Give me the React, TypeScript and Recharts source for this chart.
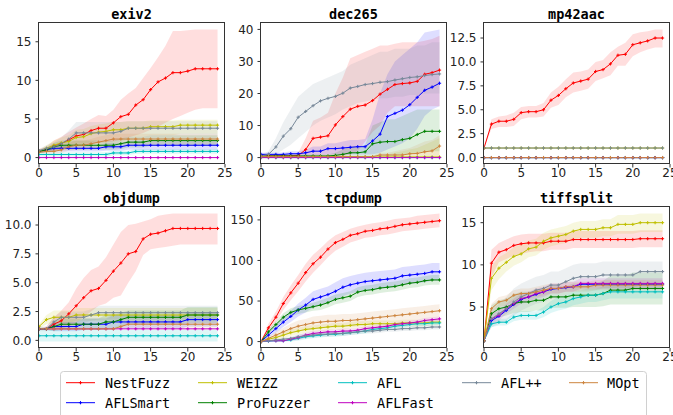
import { Area, ComposedChart, Line, XAxis, YAxis } from 'recharts';

// hours on the x axis
const hours = [0, 1, 2, 3, 4, 5, 6, 7, 8, 9, 10, 11, 12, 13, 14, 15, 16, 17, 18, 19, 20, 21, 22, 23, 24];
const xTicks = [0, 5, 10, 15, 20, 25];

const SERIES = ['NestFuzz', 'AFLSmart', 'WEIZZ', 'ProFuzzer', 'AFL', 'AFLFast', 'AFL++', 'MOpt'];
const COLORS: Record<string, string> = {
	NestFuzz: '#ff0000',
	AFLSmart: '#0000ff',
	WEIZZ: '#bfbf00',
	ProFuzzer: '#008000',
	AFL: '#00bfbf',
	AFLFast: '#bf00bf',
	'AFL++': '#778899',
	MOpt: '#cd853f'
};

type Table = Record<string, number[]>;

// ---------- exiv2 ----------
const exiv2Mean: Table = {
	NestFuzz: [0.8, 1.0, 1.5, 1.8, 2.3, 2.8, 3.0, 3.5, 3.8, 3.8, 4.5, 5.3, 5.6, 6.8, 7.5, 8.8, 9.8, 10.3, 11.0, 11.0, 11.2, 11.5, 11.5, 11.5, 11.5],
	AFLSmart: [0.8, 1.0, 1.2, 1.2, 1.2, 1.2, 1.2, 1.2, 1.2, 1.4, 1.4, 1.4, 1.6, 1.6, 1.6, 1.6, 1.6, 1.6, 1.6, 1.6, 1.6, 1.6, 1.6, 1.6, 1.6],
	WEIZZ: [0.8, 1.2, 1.6, 1.9, 2.1, 2.6, 2.7, 3.1, 3.3, 3.4, 3.6, 3.6, 3.8, 3.8, 3.8, 4.0, 4.0, 4.0, 4.0, 4.2, 4.2, 4.2, 4.2, 4.2, 4.2],
	ProFuzzer: [0.8, 1.0, 1.4, 1.6, 1.6, 1.6, 1.6, 1.6, 1.6, 1.6, 1.6, 1.8, 2.0, 2.0, 2.0, 2.2, 2.2, 2.2, 2.2, 2.2, 2.2, 2.2, 2.2, 2.2, 2.2],
	AFL: [0.4, 0.4, 0.4, 0.4, 0.4, 0.4, 0.4, 0.4, 0.4, 0.4, 0.6, 0.6, 0.6, 0.8, 0.8, 0.8, 0.8, 0.8, 0.8, 0.8, 0.8, 0.8, 0.8, 0.8, 0.8],
	AFLFast: [0, 0, 0, 0, 0, 0, 0, 0, 0, 0, 0, 0, 0, 0, 0, 0, 0, 0, 0, 0, 0, 0, 0, 0, 0],
	'AFL++': [0.9, 1.2, 1.4, 1.8, 2.4, 3.2, 3.2, 3.2, 3.2, 3.2, 3.2, 3.4, 3.8, 3.8, 3.8, 3.8, 3.8, 3.8, 3.8, 3.8, 3.8, 3.8, 3.8, 3.8, 3.8],
	MOpt: [0.7, 0.8, 0.8, 1.0, 1.4, 1.6, 1.6, 1.8, 2.0, 2.2, 2.4, 2.4, 2.4, 2.4, 2.4, 2.4, 2.4, 2.4, 2.4, 2.4, 2.4, 2.4, 2.4, 2.4, 2.4]
};
const exiv2Lo: Table = {
	NestFuzz: [0.6, 0.7, 0.9, 1.1, 1.3, 1.5, 1.6, 1.8, 1.9, 2.0, 2.1, 2.3, 2.6, 2.9, 3.2, 3.6, 4.0, 4.5, 5.0, 5.4, 5.8, 6.2, 6.4, 6.4, 6.4],
	AFLSmart: [0.6, 0.7, 0.8, 0.8, 0.8, 0.8, 0.8, 0.8, 0.8, 0.9, 0.9, 0.9, 1.0, 1.0, 1.0, 1.0, 1.0, 1.0, 1.0, 1.0, 1.0, 1.0, 1.0, 1.0, 1.0],
	WEIZZ: [0.6, 0.8, 1.0, 1.2, 1.3, 1.6, 1.7, 2.0, 2.2, 2.3, 2.5, 2.5, 2.7, 2.7, 2.7, 2.9, 2.9, 2.9, 2.9, 3.1, 3.1, 3.1, 3.1, 3.1, 3.1],
	ProFuzzer: [0.6, 0.7, 0.9, 1.0, 1.0, 1.0, 1.0, 1.0, 1.0, 1.0, 1.0, 1.1, 1.3, 1.3, 1.3, 1.5, 1.5, 1.5, 1.5, 1.5, 1.5, 1.5, 1.5, 1.5, 1.5],
	AFL: [0.1, 0.1, 0.1, 0.1, 0.1, 0.1, 0.1, 0.1, 0.1, 0.1, 0.3, 0.3, 0.3, 0.5, 0.5, 0.5, 0.5, 0.5, 0.5, 0.5, 0.5, 0.5, 0.5, 0.5, 0.5],
	'AFL++': [0.7, 0.8, 0.8, 1.0, 1.3, 1.8, 1.8, 1.8, 1.8, 1.8, 1.8, 2.0, 2.4, 2.4, 2.4, 2.4, 2.4, 2.4, 2.4, 2.4, 2.4, 2.4, 2.4, 2.4, 2.4],
	MOpt: [0.5, 0.5, 0.5, 0.6, 0.9, 1.0, 1.0, 1.2, 1.3, 1.5, 1.7, 1.7, 1.7, 1.7, 1.7, 1.7, 1.7, 1.7, 1.7, 1.7, 1.7, 1.7, 1.7, 1.7, 1.7]
};
const exiv2Hi: Table = {
	NestFuzz: [1.1, 1.4, 2.2, 2.7, 3.3, 3.9, 4.4, 5.0, 5.5, 5.4, 6.2, 7.5, 8.3, 9.0, 10.3, 11.6, 13.0, 14.5, 16.4, 16.4, 16.5, 16.6, 16.6, 16.6, 16.6],
	AFLSmart: [1.0, 1.3, 1.6, 1.6, 1.6, 1.6, 1.6, 1.6, 1.6, 1.9, 1.9, 1.9, 2.2, 2.2, 2.2, 2.2, 2.2, 2.2, 2.2, 2.2, 2.2, 2.2, 2.2, 2.2, 2.2],
	WEIZZ: [1.0, 1.6, 2.2, 2.6, 2.9, 3.6, 3.7, 4.1, 4.3, 4.4, 4.6, 4.6, 4.7, 4.7, 4.7, 4.8, 4.8, 4.8, 4.8, 4.9, 4.9, 4.9, 4.9, 4.9, 4.9],
	ProFuzzer: [1.0, 1.3, 1.9, 2.2, 2.2, 2.2, 2.2, 2.2, 2.2, 2.2, 2.2, 2.5, 2.7, 2.7, 2.7, 2.9, 2.9, 2.9, 2.9, 2.9, 2.9, 2.9, 2.9, 2.9, 2.9],
	AFL: [0.7, 0.7, 0.7, 0.7, 0.7, 0.7, 0.7, 0.7, 0.7, 0.7, 0.9, 0.9, 0.9, 1.1, 1.1, 1.1, 1.1, 1.1, 1.1, 1.1, 1.1, 1.1, 1.1, 1.1, 1.1],
	'AFL++': [1.1, 1.6, 2.0, 2.6, 3.5, 4.6, 4.6, 4.6, 4.6, 4.6, 4.6, 4.6, 4.7, 4.7, 4.7, 4.7, 4.7, 4.7, 4.7, 4.7, 4.7, 4.7, 4.7, 4.7, 4.7],
	MOpt: [0.9, 1.1, 1.1, 1.4, 1.9, 2.2, 2.2, 2.4, 2.7, 2.9, 3.1, 3.1, 3.1, 3.1, 3.1, 3.1, 3.1, 3.1, 3.1, 3.1, 3.1, 3.1, 3.1, 3.1, 3.1]
};

// ---------- dec265 ----------
const decMean: Table = {
	NestFuzz: [0.5, 0.5, 0.5, 0.5, 0.5, 0.6, 2.5, 6.0, 6.4, 6.8, 10.2, 12.8, 15.1, 16.0, 16.4, 17.8, 19.8, 21.3, 22.8, 23.1, 23.3, 23.8, 26.0, 26.5, 27.3],
	AFLSmart: [1.0, 1.0, 1.0, 1.0, 1.2, 1.2, 1.5, 2.0, 2.0, 2.8, 2.8, 3.0, 3.2, 3.4, 3.4, 5.2, 7.3, 12.8, 13.8, 14.8, 16.5, 18.8, 21.0, 22.0, 23.2],
	WEIZZ: [0.2, 0.2, 0.2, 0.2, 0.2, 0.2, 0.2, 0.2, 0.2, 0.2, 0.2, 0.2, 0.2, 0.2, 0.2, 0.2, 0.2, 0.2, 0.2, 0.2, 0.2, 0.2, 0.2, 0.2, 0.2],
	ProFuzzer: [0.5, 0.5, 0.5, 0.5, 0.5, 0.5, 0.5, 0.5, 0.5, 0.5, 0.7, 1.0, 1.5, 1.5, 1.8, 4.3, 4.8, 5.0, 5.0, 5.6, 6.0, 7.2, 8.2, 8.2, 8.2],
	AFL: [0, 0, 0, 0, 0, 0, 0, 0, 0, 0, 0, 0, 0, 0, 0, 0, 0, 0, 0, 0, 0, 0, 0, 0, 0],
	AFLFast: [0, 0, 0, 0, 0, 0, 0, 0, 0, 0, 0, 0, 0, 0, 0, 0, 0, 0, 0, 0, 0, 0, 0, 0, 0],
	'AFL++': [0.5, 1.0, 3.3, 6.7, 9.0, 12.6, 14.4, 16.2, 17.7, 18.5, 19.1, 20.1, 21.7, 22.2, 22.8, 23.1, 23.5, 23.7, 24.2, 24.6, 25.0, 25.2, 25.6, 25.9, 26.1],
	MOpt: [0.3, 0.3, 0.3, 0.3, 0.3, 0.3, 0.3, 0.3, 0.3, 0.3, 0.3, 0.3, 0.3, 0.3, 0.3, 0.3, 0.8, 0.8, 0.8, 0.8, 1.2, 1.3, 1.8, 2.1, 3.6]
};
const decLo: Table = {
	NestFuzz: [0, 0, 0, 0, 0, 0, 0.2, 0.5, 0.5, 0.5, 0.5, 0.5, 1.0, 2.0, 5.0, 8.0, 10.0, 14.0, 16.0, 16.0, 16.0, 16.0, 16.0, 16.0, 16.0],
	AFLSmart: [0.5, 0.5, 0.5, 0.5, 0.5, 0.5, 0.5, 0.8, 0.8, 1.0, 1.0, 1.0, 1.0, 1.0, 1.0, 1.0, 1.5, 2.5, 3.5, 4.5, 6.0, 9.0, 13.0, 15.0, 16.0],
	WEIZZ: [0, 0, 0, 0, 0, 0, 0, 0, 0, 0, 0, 0, 0, 0, 0, 0, 0, 0, 0, 0, 0, 0, 0, 0, 0],
	ProFuzzer: [0, 0, 0, 0, 0, 0, 0, 0, 0, 0, 0, 0, 0, 0, 0, 0.5, 0.5, 0.5, 0.5, 1.0, 1.0, 1.5, 2.0, 2.0, 2.0],
	'AFL++': [0, 0.3, 1.0, 2.5, 4.0, 6.0, 8.0, 10.0, 11.5, 12.5, 13.5, 15.0, 16.0, 17.0, 17.5, 18.0, 18.5, 18.5, 19.0, 19.0, 19.5, 19.5, 20.0, 20.0, 20.0],
	MOpt: [0, 0, 0, 0, 0, 0, 0, 0, 0, 0, 0, 0, 0, 0, 0, 0, 0, 0, 0, 0, 0, 0, 0, 0, 0]
};
const decHi: Table = {
	NestFuzz: [1, 1, 1, 1, 1, 1.5, 6, 11.5, 12.5, 14, 20, 25, 31, 32, 33, 34, 35, 35, 35.5, 36, 36, 36, 36.5, 37, 38],
	AFLSmart: [1.5, 1.5, 1.5, 1.6, 2.0, 2.0, 2.5, 3.5, 3.5, 4.5, 4.5, 5.0, 5.5, 5.5, 5.8, 12, 20, 26, 30, 32, 34, 36, 39, 39.5, 40],
	WEIZZ: [0.5, 0.5, 0.5, 0.5, 0.5, 0.5, 0.5, 0.5, 0.5, 0.5, 0.5, 0.5, 0.5, 0.5, 0.5, 0.5, 0.5, 1.0, 1.5, 2.0, 2.5, 3.0, 4.0, 5.0, 6.0],
	ProFuzzer: [1, 1, 1, 1, 1, 1, 1, 1, 1, 1, 1.5, 2.5, 3.5, 3.5, 4, 10, 11, 12, 12, 13, 14, 15, 15, 15, 15],
	'AFL++': [1, 2, 6, 11, 15, 19, 21, 23, 24, 25, 26, 27, 29, 30, 31, 32, 33, 33, 34, 34, 34, 35, 35, 36, 36],
	MOpt: [0.6, 0.6, 0.6, 0.6, 0.6, 0.6, 0.6, 0.6, 0.6, 0.6, 0.6, 0.6, 0.6, 0.6, 0.6, 0.6, 1.5, 1.5, 2.0, 2.5, 3.0, 4.0, 5.0, 5.5, 7.0]
};

// ---------- mp42aac ----------
const mpMean: Table = {
	NestFuzz: [1.0, 3.5, 3.8, 3.8, 4.0, 4.7, 4.8, 4.8, 5.0, 6.0, 6.5, 7.2, 7.8, 8.0, 8.2, 9.0, 9.2, 9.8, 10.7, 10.8, 11.8, 12.0, 12.2, 12.5, 12.5],
	AFLSmart: [0, 0, 0, 0, 0, 0, 0, 0, 0, 0, 0, 0, 0, 0, 0, 0, 0, 0, 0, 0, 0, 0, 0, 0, 0],
	WEIZZ: [1, 1, 1, 1, 1, 1, 1, 1, 1, 1, 1, 1, 1, 1, 1, 1, 1, 1, 1, 1, 1, 1, 1, 1, 1],
	ProFuzzer: [0, 0, 0, 0, 0, 0, 0, 0, 0, 0, 0, 0, 0, 0, 0, 0, 0, 0, 0, 0, 0, 0, 0, 0, 0],
	AFL: [0, 0, 0, 0, 0, 0, 0, 0, 0, 0, 0, 0, 0, 0, 0, 0, 0, 0, 0, 0, 0, 0, 0, 0, 0],
	AFLFast: [0, 0, 0, 0, 0, 0, 0, 0, 0, 0, 0, 0, 0, 0, 0, 0, 0, 0, 0, 0, 0, 0, 0, 0, 0],
	'AFL++': [1, 1, 1, 1, 1, 1, 1, 1, 1, 1, 1, 1, 1, 1, 1, 1, 1, 1, 1, 1, 1, 1, 1, 1, 1],
	MOpt: [0, 0, 0, 0, 0, 0, 0, 0, 0, 0, 0, 0, 0, 0, 0, 0, 0, 0, 0, 0, 0, 0, 0, 0, 0]
};
const mpLo: Table = {
	NestFuzz: [1.0, 3.0, 3.2, 3.2, 3.3, 4.0, 4.2, 4.2, 4.3, 5.2, 5.5, 6.3, 6.8, 7.0, 7.2, 8.0, 8.3, 8.6, 9.6, 9.6, 10.6, 11.0, 11.3, 11.5, 11.5]
};
const mpHi: Table = {
	NestFuzz: [1.0, 4.0, 4.3, 4.4, 4.7, 5.3, 5.4, 5.4, 5.7, 6.8, 7.4, 8.2, 8.9, 9.0, 9.2, 10.0, 10.2, 11.0, 11.6, 12.0, 12.9, 13.1, 13.2, 13.4, 13.4]
};

// ---------- objdump ----------
const objMean: Table = {
	NestFuzz: [1.0, 1.0, 1.4, 1.7, 2.3, 3.0, 3.7, 4.3, 4.5, 5.2, 6.0, 6.7, 7.5, 7.7, 8.8, 9.2, 9.3, 9.5, 9.7, 9.7, 9.7, 9.7, 9.7, 9.7, 9.7],
	AFLSmart: [1.0, 1.0, 1.2, 1.2, 1.2, 1.2, 1.4, 1.4, 1.4, 1.4, 1.6, 1.6, 1.6, 1.6, 1.6, 1.6, 1.6, 1.6, 1.6, 1.6, 1.8, 1.8, 1.8, 1.8, 1.8],
	WEIZZ: [1.2, 1.8, 2.0, 2.0, 2.0, 2.2, 2.2, 2.2, 2.2, 2.2, 2.2, 2.2, 2.2, 2.2, 2.2, 2.2, 2.2, 2.2, 2.2, 2.2, 2.2, 2.2, 2.2, 2.2, 2.2],
	ProFuzzer: [1.0, 1.0, 1.2, 1.4, 1.4, 1.4, 1.4, 1.4, 1.4, 1.6, 1.6, 1.8, 2.0, 2.0, 2.0, 2.0, 2.0, 2.0, 2.0, 2.0, 2.2, 2.2, 2.2, 2.2, 2.2],
	AFL: [0.4, 0.4, 0.4, 0.4, 0.4, 0.4, 0.4, 0.4, 0.4, 0.4, 0.4, 0.4, 0.4, 0.4, 0.4, 0.4, 0.4, 0.4, 0.4, 0.4, 0.4, 0.4, 0.4, 0.4, 0.4],
	AFLFast: [1, 1, 1, 1, 1, 1, 1, 1, 1, 1, 1, 1, 1, 1, 1, 1, 1, 1, 1, 1, 1, 1, 1, 1, 1],
	'AFL++': [1.0, 1.0, 1.6, 2.0, 2.0, 2.0, 2.0, 2.2, 2.4, 2.4, 2.4, 2.4, 2.4, 2.4, 2.4, 2.4, 2.4, 2.4, 2.4, 2.4, 2.4, 2.4, 2.4, 2.4, 2.4],
	MOpt: [1.0, 1.0, 1.0, 1.0, 1.0, 1.0, 1.0, 1.0, 1.0, 1.0, 1.0, 1.2, 1.4, 1.4, 1.4, 1.4, 1.4, 1.4, 1.4, 1.4, 1.4, 1.4, 1.4, 1.4, 1.4]
};
const objLo: Table = {
	NestFuzz: [1.0, 0.9, 0.9, 1.0, 1.2, 1.5, 2.0, 2.5, 3.0, 3.2, 3.7, 3.9, 5.0, 6.0, 7.4, 7.9, 8.0, 8.1, 8.2, 8.3, 8.3, 8.3, 8.3, 8.3, 8.3],
	AFLSmart: [0.9, 0.9, 0.8, 0.8, 0.8, 0.8, 0.9, 0.9, 0.9, 0.9, 1.0, 1.0, 1.0, 1.0, 1.0, 1.0, 1.0, 1.0, 1.0, 1.0, 1.2, 1.2, 1.2, 1.2, 1.2],
	WEIZZ: [1.0, 1.4, 1.5, 1.5, 1.5, 1.7, 1.7, 1.7, 1.7, 1.7, 1.7, 1.7, 1.7, 1.7, 1.7, 1.7, 1.7, 1.7, 1.7, 1.7, 1.7, 1.7, 1.7, 1.7, 1.7],
	ProFuzzer: [0.9, 0.9, 0.8, 0.9, 0.9, 0.9, 0.9, 0.9, 0.9, 1.0, 1.0, 1.2, 1.4, 1.4, 1.4, 1.4, 1.4, 1.4, 1.4, 1.4, 1.5, 1.5, 1.5, 1.5, 1.5],
	AFL: [-0.1, -0.1, -0.1, -0.1, -0.1, -0.1, -0.1, -0.1, -0.1, -0.1, -0.1, -0.1, -0.1, -0.1, -0.1, -0.1, -0.1, -0.1, -0.1, -0.1, -0.1, -0.1, -0.1, -0.1, -0.1],
	'AFL++': [0.8, 0.8, 1.2, 1.5, 1.5, 1.5, 1.5, 1.7, 1.8, 1.8, 1.8, 1.8, 1.8, 1.8, 1.8, 1.8, 1.8, 1.8, 1.8, 1.8, 1.8, 1.8, 1.8, 1.8, 1.8],
	MOpt: [0.9, 0.9, 0.9, 0.9, 0.9, 0.9, 0.9, 0.9, 0.9, 0.9, 0.9, 1.0, 1.1, 1.1, 1.1, 1.1, 1.1, 1.1, 1.1, 1.1, 1.1, 1.1, 1.1, 1.1, 1.1]
};
const objHi: Table = {
	NestFuzz: [1.0, 1.2, 2.0, 2.6, 3.3, 4.5, 5.4, 6.1, 6.4, 7.2, 8.3, 9.4, 10.0, 10.1, 10.3, 10.5, 10.8, 10.9, 11.0, 11.0, 11.0, 11.0, 11.0, 11.0, 11.0],
	AFLSmart: [1.1, 1.1, 1.6, 1.6, 1.6, 1.6, 1.9, 1.9, 1.9, 1.9, 2.2, 2.2, 2.2, 2.2, 2.2, 2.2, 2.2, 2.2, 2.2, 2.2, 2.4, 2.4, 2.4, 2.4, 2.4],
	WEIZZ: [1.4, 2.2, 2.6, 2.6, 2.6, 2.8, 2.8, 2.8, 2.8, 2.8, 2.8, 2.8, 2.8, 2.8, 2.8, 2.8, 2.8, 2.8, 2.8, 2.8, 2.8, 2.8, 2.8, 2.8, 2.8],
	ProFuzzer: [1.1, 1.1, 1.6, 1.9, 1.9, 1.9, 1.9, 1.9, 1.9, 2.2, 2.2, 2.4, 2.6, 2.6, 2.6, 2.6, 2.6, 2.6, 2.6, 2.6, 2.9, 2.9, 2.9, 2.9, 2.9],
	AFL: [0.9, 0.9, 0.9, 0.9, 0.9, 0.9, 0.9, 0.9, 0.9, 0.9, 0.9, 0.9, 0.9, 0.9, 0.9, 0.9, 0.9, 0.9, 0.9, 0.9, 0.9, 0.9, 0.9, 0.9, 0.9],
	'AFL++': [1.2, 1.2, 2.0, 2.5, 2.5, 2.5, 2.5, 2.7, 3.0, 3.0, 3.0, 3.0, 3.0, 3.0, 3.0, 3.0, 3.0, 3.0, 3.0, 3.0, 3.0, 3.0, 3.0, 3.0, 3.0],
	MOpt: [1.1, 1.1, 1.1, 1.1, 1.1, 1.1, 1.1, 1.1, 1.1, 1.1, 1.1, 1.4, 1.7, 1.7, 1.7, 1.7, 1.7, 1.7, 1.7, 1.7, 1.7, 1.7, 1.7, 1.7, 1.7]
};

// ---------- tcpdump ----------
const tcpMean: Table = {
	NestFuzz: [0, 17, 30, 47, 60, 72, 85, 96, 104, 114, 122, 126, 131, 133, 136, 137, 139, 140, 142, 144, 145, 146, 147, 148, 149],
	AFLSmart: [0, 8, 16, 24, 31, 39, 45, 52, 55, 58, 62, 67, 70, 72, 74, 75, 76, 77, 78, 81, 82, 83, 84, 86, 86],
	WEIZZ: [0, 3, 5, 8, 11, 13, 15, 16, 17, 18, 19, 19, 20, 21, 21, 22, 22, 22, 22, 23, 23, 23, 23, 24, 24],
	ProFuzzer: [0, 12, 21, 30, 36, 39, 41, 43, 45, 48, 52, 54, 56, 61, 63, 64, 66, 67, 68, 70, 72, 73, 75, 76, 76],
	AFL: [0, 0.5, 1, 1, 2, 4, 6, 7, 8, 9, 9, 10, 11, 12, 13, 15, 16, 17, 19, 20, 21, 22, 22, 23, 23],
	AFLFast: [0, 1, 1, 1, 3, 5, 8, 10, 11, 12, 12, 13, 13, 14, 16, 17, 18, 19, 21, 22, 23, 24, 26, 27, 28],
	'AFL++': [0, 1, 2, 3, 4, 6, 7, 8, 9, 9, 10, 10, 11, 12, 13, 13, 14, 15, 15, 16, 16, 17, 17, 18, 18],
	MOpt: [0, 4, 8, 12, 16, 19, 21, 23, 24, 25, 25, 26, 26, 27, 28, 29, 30, 31, 32, 33, 34, 35, 36, 37, 38]
};
const tcpLo: Table = {
	NestFuzz: [0, 12, 24, 39, 51, 62, 74, 85, 94, 104, 112, 117, 122, 125, 128, 129, 131, 132, 134, 136, 137, 138, 139, 140, 141],
	AFLSmart: [0, 5, 11, 18, 24, 31, 36, 42, 45, 48, 51, 56, 59, 61, 63, 64, 65, 66, 67, 70, 71, 72, 73, 75, 75],
	WEIZZ: [0, 1, 2, 4, 7, 9, 11, 12, 13, 14, 15, 15, 16, 17, 17, 18, 18, 18, 18, 19, 19, 19, 19, 20, 20],
	ProFuzzer: [0, 9, 17, 25, 31, 34, 36, 38, 39, 42, 46, 48, 50, 55, 57, 58, 60, 61, 62, 64, 66, 67, 69, 70, 70],
	AFL: [0, 0, 0, 0, 0, 1, 3, 4, 5, 6, 6, 7, 8, 9, 10, 12, 13, 14, 16, 17, 18, 19, 19, 20, 20],
	AFLFast: [0, 0, 0, 0, 1, 2, 5, 7, 8, 9, 9, 10, 10, 11, 13, 14, 15, 16, 18, 19, 20, 21, 23, 24, 25],
	'AFL++': [0, 0, 0, 1, 2, 3, 4, 5, 6, 6, 7, 7, 8, 9, 10, 10, 11, 12, 12, 13, 13, 14, 14, 15, 15],
	MOpt: [0, 2, 4, 7, 10, 12, 14, 15, 16, 17, 17, 18, 18, 19, 20, 21, 22, 23, 24, 25, 26, 27, 28, 29, 30]
};
const tcpHi: Table = {
	NestFuzz: [0, 22, 37, 55, 69, 82, 96, 107, 115, 124, 131, 135, 139, 142, 144, 146, 147, 149, 151, 152, 153, 155, 156, 157, 158],
	AFLSmart: [0, 11, 21, 30, 38, 47, 54, 62, 65, 68, 73, 78, 81, 83, 85, 86, 87, 88, 89, 92, 93, 94, 95, 97, 97],
	WEIZZ: [0, 5, 8, 12, 15, 17, 19, 20, 21, 22, 23, 23, 24, 25, 25, 26, 26, 26, 26, 27, 27, 27, 27, 28, 28],
	ProFuzzer: [0, 15, 25, 35, 41, 44, 46, 48, 51, 54, 58, 60, 62, 67, 69, 70, 72, 73, 74, 76, 78, 79, 81, 82, 82],
	AFL: [0, 1, 2, 3, 4, 7, 9, 10, 11, 12, 12, 13, 14, 15, 16, 18, 19, 20, 22, 23, 24, 25, 25, 26, 26],
	AFLFast: [0, 2, 2, 3, 5, 8, 11, 13, 14, 15, 15, 16, 16, 17, 19, 20, 21, 22, 24, 25, 26, 27, 29, 30, 31],
	'AFL++': [0, 2, 4, 5, 6, 9, 10, 11, 12, 12, 13, 13, 14, 15, 16, 16, 17, 18, 18, 19, 19, 20, 20, 21, 21],
	MOpt: [0, 6, 12, 17, 22, 26, 28, 31, 32, 33, 33, 34, 34, 35, 36, 37, 38, 39, 40, 41, 42, 43, 44, 45, 46]
};

// ---------- tiffsplit ----------
const tiffMean: Table = {
	NestFuzz: [1.0, 10.2, 11.5, 11.8, 12.3, 12.5, 12.6, 12.6, 12.6, 12.8, 12.8, 12.8, 13.0, 13.0, 13.0, 13.0, 13.0, 13.0, 13.0, 13.0, 13.0, 13.1, 13.1, 13.1, 13.1],
	AFLSmart: [1.0, 3.4, 3.9, 4.6, 5.3, 5.9, 6.2, 6.5, 6.8, 7.1, 7.2, 7.3, 7.4, 7.7, 7.7, 7.7, 7.7, 7.7, 7.7, 7.7, 7.7, 7.7, 7.7, 7.7, 7.7],
	WEIZZ: [1.0, 8.4, 9.6, 10.3, 11.0, 11.3, 11.9, 12.1, 12.8, 13.2, 13.4, 13.6, 14.0, 14.2, 14.2, 14.2, 14.4, 14.4, 14.8, 14.8, 14.8, 15.0, 15.0, 15.0, 15.0],
	ProFuzzer: [1.0, 4.2, 4.8, 5.0, 5.4, 5.6, 5.6, 5.8, 5.8, 6.2, 6.2, 6.2, 6.4, 6.4, 6.4, 6.4, 6.6, 7.0, 7.0, 7.0, 7.2, 7.2, 7.2, 7.2, 7.2],
	AFL: [1.0, 3.0, 3.2, 3.2, 3.8, 4.0, 4.0, 4.0, 4.4, 5.0, 5.4, 5.6, 6.0, 6.2, 6.4, 6.4, 6.6, 6.8, 6.8, 6.8, 6.8, 6.8, 6.8, 6.8, 6.8],
	AFLFast: [1.0, 3.6, 4.0, 4.8, 5.4, 6.0, 6.2, 6.6, 6.8, 7.2, 7.2, 7.4, 7.4, 7.8, 7.8, 7.8, 7.8, 7.8, 7.8, 7.8, 7.8, 7.8, 7.8, 7.8, 7.8],
	'AFL++': [1.0, 3.6, 4.2, 4.8, 5.6, 6.2, 6.6, 7.0, 7.2, 7.6, 7.6, 8.0, 8.4, 8.6, 8.6, 8.6, 8.8, 8.8, 8.8, 8.8, 8.8, 9.2, 9.2, 9.2, 9.2],
	MOpt: [1.0, 4.8, 5.6, 5.8, 6.4, 6.6, 6.6, 6.8, 7.0, 7.2, 7.2, 7.4, 7.4, 7.4, 7.4, 7.6, 7.6, 7.6, 7.6, 7.6, 7.6, 7.6, 7.6, 7.6, 7.6]
};
const tiffLo: Table = {
	NestFuzz: [0.9, 8.5, 10.3, 10.7, 11.1, 11.3, 11.5, 11.6, 11.6, 11.8, 11.8, 11.8, 12.0, 12.0, 12.0, 12.0, 12.0, 12.0, 12.0, 12.0, 12.0, 12.1, 12.1, 12.1, 12.1],
	WEIZZ: [0.9, 7.0, 8.3, 9.2, 9.9, 10.3, 10.9, 11.1, 11.8, 12.2, 12.4, 12.6, 13.0, 13.2, 13.2, 13.2, 13.4, 13.4, 13.7, 13.7, 13.7, 13.9, 13.9, 13.9, 13.9],
	ProFuzzer: [0.9, 3.2, 3.8, 4.0, 4.3, 4.4, 4.4, 4.6, 4.6, 4.9, 4.9, 4.9, 5.0, 5.0, 5.0, 5.0, 5.1, 5.3, 5.3, 5.3, 5.3, 5.3, 5.3, 5.3, 5.3],
	AFL: [0.9, 2.6, 2.8, 2.8, 3.3, 3.5, 3.5, 3.5, 3.8, 4.3, 4.6, 4.8, 5.2, 5.4, 5.6, 5.6, 5.8, 6.0, 6.0, 6.0, 6.0, 6.0, 6.0, 6.0, 6.0],
	AFLFast: [0.9, 3.0, 3.4, 4.2, 4.8, 5.4, 5.6, 6.0, 6.2, 6.6, 6.6, 6.8, 6.8, 7.2, 7.2, 7.2, 7.2, 7.2, 7.2, 7.2, 7.2, 7.2, 7.2, 7.2, 7.2],
	'AFL++': [0.9, 2.6, 3.0, 3.4, 4.0, 4.6, 5.0, 5.4, 5.6, 6.0, 6.0, 6.4, 6.8, 7.0, 7.0, 7.0, 7.2, 7.2, 7.2, 7.2, 7.2, 7.6, 7.6, 7.6, 7.6],
	MOpt: [0.9, 4.2, 5.0, 5.2, 5.8, 6.0, 6.0, 6.2, 6.4, 6.6, 6.6, 6.8, 6.8, 6.8, 6.8, 7.0, 7.0, 7.0, 7.0, 7.0, 7.0, 7.0, 7.0, 7.0, 7.0]
};
const tiffHi: Table = {
	NestFuzz: [1.1, 11.8, 12.6, 13.0, 13.4, 13.6, 13.7, 13.7, 13.7, 13.8, 13.8, 13.8, 14.0, 14.0, 14.0, 14.0, 14.0, 14.0, 14.0, 14.0, 14.0, 14.1, 14.1, 14.1, 14.1],
	WEIZZ: [1.1, 9.8, 10.9, 11.4, 12.1, 12.4, 12.9, 13.1, 13.8, 14.2, 14.4, 14.6, 15.0, 15.2, 15.2, 15.2, 15.4, 15.4, 15.9, 15.9, 15.9, 16.1, 16.1, 16.1, 16.1],
	ProFuzzer: [1.1, 5.2, 5.8, 6.0, 6.5, 6.8, 6.8, 7.0, 7.0, 7.5, 7.5, 7.5, 7.8, 7.8, 7.8, 7.8, 8.1, 8.7, 8.7, 8.7, 9.1, 9.1, 9.1, 9.1, 9.1],
	AFL: [1.1, 3.4, 3.6, 3.6, 4.3, 4.5, 4.5, 4.5, 5.0, 5.7, 6.2, 6.4, 6.8, 7.0, 7.2, 7.2, 7.4, 7.6, 7.6, 7.6, 7.6, 7.6, 7.6, 7.6, 7.6],
	AFLFast: [1.1, 4.2, 4.6, 5.4, 6.0, 6.6, 6.8, 7.2, 7.4, 7.8, 7.8, 8.0, 8.0, 8.4, 8.4, 8.4, 8.4, 8.4, 8.4, 8.4, 8.4, 8.4, 8.4, 8.4, 8.4],
	'AFL++': [1.1, 4.6, 5.4, 6.2, 7.2, 7.8, 8.2, 8.6, 8.8, 9.2, 9.2, 9.6, 10.0, 10.2, 10.2, 10.2, 10.4, 10.4, 10.4, 10.4, 10.4, 10.4, 10.4, 10.4, 10.4],
	MOpt: [1.1, 5.4, 6.2, 6.4, 7.0, 7.2, 7.2, 7.4, 7.6, 7.8, 7.8, 8.0, 8.0, 8.0, 8.0, 8.2, 8.2, 8.2, 8.2, 8.2, 8.2, 8.2, 8.2, 8.2, 8.2]
};

const oneDecimal = (v: number) => v.toFixed(1);
const plain = (v: number) => String(v);

const panels = [
	{ title: 'exiv2', mean: exiv2Mean, lo: exiv2Lo, hi: exiv2Hi, domain: [-0.83, 17.43], ticks: [0, 5, 10, 15], fmt: plain },
	{ title: 'dec265', mean: decMean, lo: decLo, hi: decHi, domain: [-2, 42], ticks: [0, 10, 20, 30, 40], fmt: plain },
	{ title: 'mp42aac', mean: mpMean, lo: mpLo, hi: mpHi, domain: [-0.67, 14.07], ticks: [0, 2.5, 5, 7.5, 10, 12.5], fmt: oneDecimal },
	{ title: 'objdump', mean: objMean, lo: objLo, hi: objHi, domain: [-0.66, 11.56], ticks: [0, 2.5, 5, 7.5, 10], fmt: oneDecimal },
	{ title: 'tcpdump', mean: tcpMean, lo: tcpLo, hi: tcpHi, domain: [-7.9, 165.9], ticks: [0, 50, 100, 150], fmt: plain },
	{ title: 'tiffsplit', mean: tiffMean, lo: tiffLo, hi: tiffHi, domain: [0.14, 16.86], ticks: [5, 10, 15], fmt: plain }
];

// layout
const PLOT_LEFT = [38.5, 260.5, 483.5];
const PLOT_TOP = [22.5, 206.5];
const PW = 186;
const PH = 141;
const YW = 40;
const XH = 24;
const MT = 4;
const MR = 24;

const MONO = '"DejaVu Sans Mono", monospace';
const SANS = '"DejaVu Sans", sans-serif';
const FRAME = '#333';

const plusDot = (color: string) => (p: any) => {
	const { cx, cy, index } = p;
	if (cx == null || cy == null) return <g key={index} />;
	return (
		<path
			key={index}
			d={`M${cx - 1.6},${cy}H${cx + 1.6}M${cx},${cy - 1.6}V${cy + 1.6}`}
			stroke={color}
			strokeWidth={1}
		/>
	);
};

function Panel({ cfg, left, top }: { cfg: (typeof panels)[number]; left: number; top: number }) {
	const rows = hours.map((h, i) => {
		const r: any = { x: h };
		SERIES.forEach((s, k) => {
			r['s' + k] = cfg.mean[s][i];
			if (cfg.lo[s]) r['b' + k] = [cfg.lo[s][i], cfg.hi[s][i]];
		});
		return r;
	});
	const tickStyle = { fontSize: 12, fill: '#222', fontFamily: SANS };
	return (
		<div style={{ position: 'absolute', left: left - YW, top: top - MT }}>
			<ComposedChart width={YW + PW + MR} height={MT + PH + XH} data={rows} margin={{ top: MT, right: MR, bottom: 0, left: 0 }}>
				<XAxis
					dataKey="x"
					type="number"
					domain={[0, 25]}
					ticks={xTicks}
					interval={0}
					allowDataOverflow
					axisLine={false}
					tickLine={{ stroke: FRAME }}
					tickSize={3.5}
					tickMargin={0.5}
					height={XH}
					tick={tickStyle}
				/>
				<YAxis
					type="number"
					domain={cfg.domain as [number, number]}
					ticks={cfg.ticks}
					interval={0}
					allowDataOverflow
					axisLine={false}
					tickLine={{ stroke: FRAME }}
					tickSize={3.5}
					tickMargin={4}
					width={YW}
					tick={tickStyle}
					tickFormatter={cfg.fmt}
				/>
				{SERIES.map((s, k) =>
					cfg.lo[s] ? (
						<Area
							key={'a' + k}
							dataKey={'b' + k}
							type="linear"
							stroke="none"
							fill={COLORS[s]}
							fillOpacity={0.13}
							dot={false}
							activeDot={false}
							isAnimationActive={false}
						/>
					) : null
				)}
				{SERIES.map((s, k) => (
					<Line
						key={'l' + k}
						dataKey={'s' + k}
						type="linear"
						stroke={COLORS[s]}
						strokeWidth={1}
						dot={plusDot(COLORS[s])}
						activeDot={false}
						isAnimationActive={false}
					/>
				))}
			</ComposedChart>
		</div>
	);
}

// legend slots (column, row) as laid out in the reference
const legendSlots: Record<string, [number, number]> = {
	NestFuzz: [0, 0],
	AFLSmart: [0, 1],
	WEIZZ: [1, 0],
	ProFuzzer: [1, 1],
	AFL: [2, 0],
	AFLFast: [2, 1],
	'AFL++': [3, 0],
	MOpt: [4, 0]
};
const legendRows = [382.7, 402.7];
const legendSwatchX = [66, 198, 338, 462, 569];
const legendTextX = [105, 237, 377, 501, 607];

export default function App() {
	return (
		<div style={{ position: 'absolute', left: 0, top: 0, width: 673, height: 415, background: '#fff', overflow: 'hidden' }}>
			{panels.map((p, i) => (
				<Panel key={p.title} cfg={p} left={PLOT_LEFT[i % 3]} top={PLOT_TOP[Math.floor(i / 3)]} />
			))}
			<svg width={673} height={415} style={{ position: 'absolute', left: 0, top: 0, pointerEvents: 'none' }}>
				{panels.map((p, i) => {
					const x = PLOT_LEFT[i % 3];
					const y = PLOT_TOP[Math.floor(i / 3)];
					return (
						<g key={p.title}>
							<rect x={x} y={y} width={PW} height={PH} fill="none" stroke={FRAME} strokeWidth={1} />
							<text x={x + PW / 2} y={y - 3.3} textAnchor="middle" fontFamily={MONO} fontWeight="bold" fontSize={13.5} fill="#000">
								{p.title}
							</text>
						</g>
					);
				})}
				<rect x={60.5} y={371.5} width={586} height={60} rx={3} fill="#fff" stroke="#d0d0d0" strokeWidth={1} />
				{SERIES.map((s) => {
					const [col, row] = legendSlots[s];
					const ry = legendRows[row];
					const sx = legendSwatchX[col];
					return (
						<g key={s}>
							<line x1={sx} y1={ry} x2={sx + 29} y2={ry} stroke={COLORS[s]} strokeWidth={1} />
							<path d={`M${sx + 12.9},${ry}H${sx + 16.1}M${sx + 14.5},${ry - 1.6}V${ry + 1.6}`} stroke={COLORS[s]} strokeWidth={1} />
							<text x={legendTextX[col]} y={ry + 5} fontFamily={MONO} fontSize={13.5} fill="#000">
								{s}
							</text>
						</g>
					);
				})}
			</svg>
		</div>
	);
}
